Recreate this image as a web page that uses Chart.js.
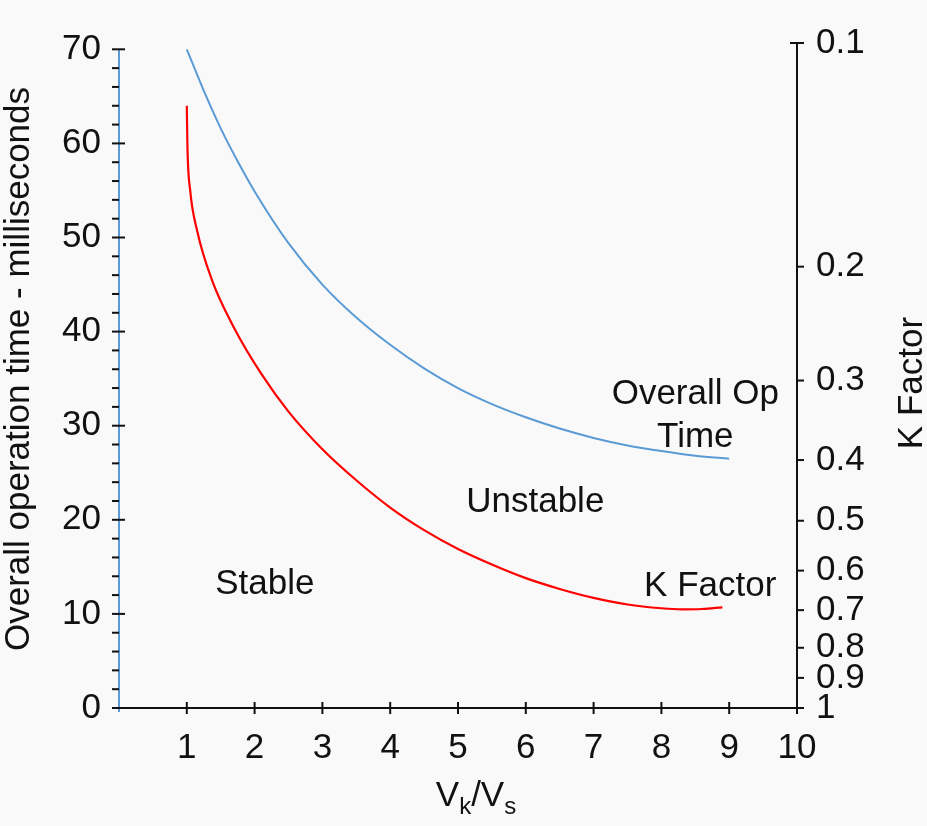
<!DOCTYPE html>
<html>
<head>
<meta charset="utf-8">
<title>Overall operation time and K factor</title>
<script src="https://cdn.jsdelivr.net/npm/chart.js@4.4.0/dist/chart.umd.min.js"></script>
<style>
  body { margin: 0; background: #f9f9f9; }
  #wrap { width: 927px; height: 826px; }
</style>
</head>
<body>
<div id="wrap"><canvas id="chart"></canvas></div>
<script>
// Vk/Vs along the bottom
const opTimeRatio = [1, 1.25, 1.5, 1.75, 2, 2.5, 3, 3.5, 4, 4.5, 5, 5.5, 6, 6.5, 7, 7.5, 8, 8.5, 9];
const opTimeMs = [70, 65.6, 61.6, 58.1, 54.9, 49.4, 45.0, 41.5, 38.6, 36.1, 34.0, 32.3, 30.9, 29.7, 28.7, 27.9, 27.3, 26.8, 26.5];

// K factor curve, drawn against the left scale like in the original
const kRatio = [1, 1.01, 1.05, 1.15, 1.37, 1.69, 2.1, 2.5, 3, 3.5, 4, 4.5, 5, 5.5, 6, 6.5, 7, 7.5, 8, 8.3, 8.6, 8.9];
const kCurve = [64, 59.5, 55, 50.8, 45.5, 40.5, 35.5, 31.5, 27.5, 24.2, 21.3, 18.9, 16.9, 15.25, 13.8, 12.65, 11.7, 11.0, 10.6, 10.48, 10.52, 10.7];

// bottom ticks
const ratioTicks = [0, 1, 2, 3, 4, 5, 6, 7, 8, 9, 10];
// right hand K factor scale (non linear, so each label sits at its own place on the left scale)
const kTickLabels = ['0.1', '0.2', '0.3', '0.4', '0.5', '0.6', '0.7', '0.8', '0.9', '1'];
const kTickAt = [70.67, 46.9, 34.8, 26.35, 19.9, 14.6, 10.4, 6.4, 3.2, 0];

const blue = '#5b9bd5';
const red = '#ff0000';
const ink = '#111111';
const family = '"Liberation Sans", Arial, Helvetica, sans-serif';
const bigFont = { family: family, size: 35 };

function toPoints(xs, ys) {
  return xs.map((v, i) => ({ x: v, y: ys[i] }));
}

function line(ctx, x1, y1, x2, y2) {
  ctx.beginPath();
  ctx.moveTo(x1, y1);
  ctx.lineTo(x2, y2);
  ctx.stroke();
}

// axis lines, tick marks, titles and the notes inside the plot
const axesAndNotes = {
  id: 'axesAndNotes',
  afterDraw(chart) {
    const ctx = chart.ctx;
    const { x, y, y2 } = chart.scales;
    const left = x.getPixelForValue(0);
    const right = x.getPixelForValue(10);
    const bottom = y.getPixelForValue(0);

    ctx.save();
    ctx.lineCap = 'butt';

    // left axis, blue line with black ticks
    ctx.strokeStyle = blue;
    ctx.lineWidth = 2;
    line(ctx, left, y.getPixelForValue(70), left, bottom + 4);
    ctx.strokeStyle = ink;
    y.ticks.forEach(t => {
      const py = y.getPixelForValue(t.value);
      const major = t.value % 10 === 0;
      line(ctx, left - 7, py, major ? left + 6 : left, py);
    });

    // bottom axis
    line(ctx, left - 7, bottom, right + 3, bottom);
    x.ticks.forEach(t => {
      if (t.value === 0) return;
      const px = x.getPixelForValue(t.value);
      line(ctx, px, bottom - 6, px, bottom + 6);
    });

    // right axis
    line(ctx, right, y2.getPixelForValue(kTickAt[0]), right, bottom + 4);
    y2.ticks.forEach((t, i) => {
      const py = y2.getPixelForValue(t.value);
      line(ctx, i === 0 ? right - 7 : right, py, right + 7, py);
    });

    // notes in the plot
    ctx.fillStyle = ink;
    ctx.font = '35px ' + family;
    ctx.textAlign = 'center';
    ctx.textBaseline = 'middle';
    const note = (text, vx, vy) => ctx.fillText(text, x.getPixelForValue(vx), y.getPixelForValue(vy));
    note('Stable', 2.15, 13.1);
    note('Unstable', 6.14, 21.9);
    note('Overall Op', 8.5, 33.3);
    note('Time', 8.5, 28.8);
    note('K Factor', 8.72, 12.9);

    // left title
    ctx.save();
    ctx.translate(19, 369);
    ctx.rotate(-Math.PI / 2);
    ctx.fillText('Overall operation time - milliseconds', 0, 0);
    ctx.restore();

    // right title
    ctx.save();
    ctx.translate(912, 383);
    ctx.rotate(-Math.PI / 2);
    ctx.fillText('K Factor', 0, 0);
    ctx.restore();

    // bottom title Vk/Vs with subscripts
    const parts = [['V', 35, 0], ['k', 24, 8], ['/V', 35, 0], ['s', 24, 8]];
    ctx.textAlign = 'left';
    ctx.textBaseline = 'alphabetic';
    let total = 0;
    parts.forEach(p => { ctx.font = p[1] + 'px ' + family; total += ctx.measureText(p[0]).width; });
    let cx = 476 - total / 2;
    parts.forEach(p => {
      ctx.font = p[1] + 'px ' + family;
      ctx.fillText(p[0], cx, 806 + p[2]);
      cx += ctx.measureText(p[0]).width;
    });

    ctx.restore();
  }
};

new Chart(document.getElementById('chart'), {
  type: 'line',
  data: {
    datasets: [
      {
        label: 'Overall Op Time',
        data: toPoints(opTimeRatio, opTimeMs),
        borderColor: blue,
        borderWidth: 2,
        pointRadius: 0,
        cubicInterpolationMode: 'monotone',
        yAxisID: 'y'
      },
      {
        label: 'K Factor',
        data: toPoints(kRatio, kCurve),
        borderColor: red,
        borderWidth: 2.2,
        pointRadius: 0,
        cubicInterpolationMode: 'monotone',
        yAxisID: 'y'
      }
    ]
  },
  options: {
    responsive: true,
    maintainAspectRatio: false,
    animation: false,
    layout: { padding: { top: 43, left: 0, right: 0, bottom: 0 } },
    plugins: { legend: { display: false }, tooltip: { enabled: false } },
    scales: {
      x: {
        type: 'linear',
        min: 0,
        max: 10,
        grid: { display: false },
        border: { display: false },
        afterBuildTicks: s => { s.ticks = ratioTicks.map(v => ({ value: v })); },
        afterFit: s => { s.height = 118; },
        ticks: {
          autoSkip: false,
          maxRotation: 0,
          padding: 11,
          color: ink,
          font: bigFont,
          callback: v => (v === 0 ? '' : v)
        }
      },
      y: {
        position: 'left',
        min: 0,
        max: 70.67,
        grid: { display: false },
        border: { display: false },
        afterBuildTicks: s => {
          const t = [];
          for (let v = 0; v <= 70; v += 2) t.push({ value: v });
          s.ticks = t;
        },
        afterFit: s => { s.width = 119; },
        ticks: {
          autoSkip: false,
          padding: 10,
          color: ink,
          font: bigFont,
          callback: v => (v % 10 === 0 ? v : '')
        }
      },
      y2: {
        position: 'right',
        min: 0,
        max: 70.67,
        grid: { display: false },
        border: { display: false },
        afterBuildTicks: s => { s.ticks = kTickAt.map(v => ({ value: v })); },
        afterFit: s => { s.width = 130; },
        ticks: {
          autoSkip: false,
          padding: 11,
          color: ink,
          font: bigFont,
          callback: (v, i) => kTickLabels[i]
        }
      }
    }
  },
  plugins: [axesAndNotes]
});
</script>
</body>
</html>
